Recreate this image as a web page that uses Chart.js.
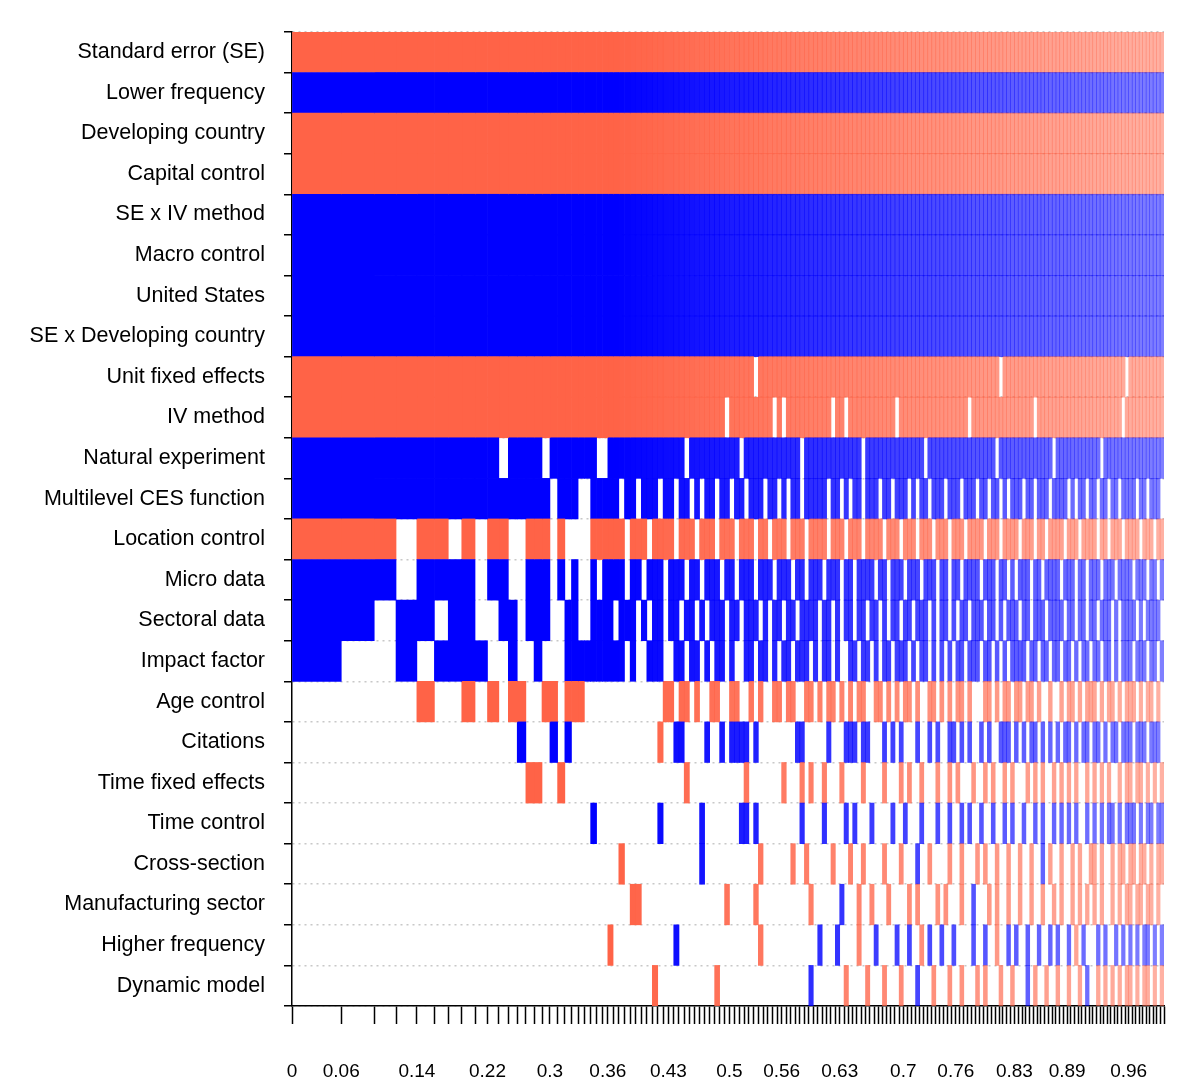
<!DOCTYPE html>
<html>
<head>
<meta charset="utf-8">
<script src="https://cdn.jsdelivr.net/npm/chart.js@4/dist/chart.umd.min.js"></script>
<style>
  body { margin: 0; background: #fff; }
  #wrap { width: 1200px; height: 1088px; }
</style>
</head>
<body>
<div id="wrap"><canvas id="chart" width="1200" height="1088"></canvas></div>
<script>
const variables = [
  "Standard error (SE)", "Lower frequency", "Developing country", "Capital control",
  "SE x IV method", "Macro control", "United States", "SE x Developing country",
  "Unit fixed effects", "IV method", "Natural experiment", "Multilevel CES function",
  "Location control", "Micro data", "Sectoral data", "Impact factor",
  "Age control", "Citations", "Time fixed effects", "Time control",
  "Cross-section", "Manufacturing sector", "Higher frequency", "Dynamic model"
];

// usual sign of each variable: 1 = positive (red), -1 = negative (blue)
const signs = [1, -1, 1, 1, -1, -1, -1, -1, 1, 1, -1, -1, 1, -1, -1, -1, 1, -1, 1, -1, 1, 1, -1, 1];

// posterior model probabilities (column widths), best model first
const modelProbs = [
  0.0565, 0.0378, 0.025, 0.0239, 0.0201, 0.0159, 0.0155, 0.0152, 0.0143, 0.013,
  0.0109, 0.0102, 0.0099, 0.0094, 0.0091, 0.0091, 0.0088, 0.0083, 0.0076, 0.0076,
  0.0072, 0.0072, 0.0068, 0.0068, 0.0061, 0.006,
  0.0066, 0.0065, 0.0065, 0.0064, 0.0064, 0.0063, 0.0063, 0.0062, 0.0062, 0.0061,
  0.0061, 0.0060, 0.0060, 0.0059, 0.0059, 0.0058, 0.0058, 0.0058, 0.0057, 0.0057,
  0.0057, 0.0056, 0.0056, 0.0056, 0.0055, 0.0055, 0.0055, 0.0054, 0.0054, 0.0054,
  0.0053, 0.0053, 0.0053, 0.0053, 0.0052, 0.0052, 0.0052, 0.0052, 0.0051, 0.0051,
  0.0051, 0.0051, 0.0051, 0.0050, 0.0050, 0.0050, 0.0050, 0.0050, 0.0049, 0.0049,
  0.0049, 0.0049, 0.0049, 0.0049, 0.0048, 0.0048, 0.0048, 0.0048, 0.0048, 0.0048,
  0.0047, 0.0047, 0.0047, 0.0047, 0.0047, 0.0047, 0.0046, 0.0046, 0.0046, 0.0046,
  0.0046, 0.0046, 0.0046, 0.0046, 0.0046, 0.0045, 0.0045, 0.0045, 0.0045, 0.0045,
  0.0045, 0.0045, 0.0045, 0.0045, 0.0044, 0.0044, 0.0044, 0.0044, 0.0044, 0.0044,
  0.0044, 0.0044, 0.0044, 0.0043, 0.0043, 0.0043, 0.0043, 0.0043, 0.0043, 0.0043,
  0.0043, 0.0043, 0.0042, 0.0042, 0.0042, 0.0042, 0.0042, 0.0042, 0.0042, 0.0042,
  0.0042, 0.0042, 0.0041, 0.0041, 0.0041, 0.0041, 0.0041, 0.0041, 0.0041, 0.0041,
  0.0040, 0.0040, 0.0040, 0.0040, 0.0040, 0.0040, 0.0040, 0.0040, 0.0040, 0.0045
];

// inclusion per variable and model: 1 = usual sign, 2 = opposite sign, 0 = not included
const inclusion = [
  "1111111111 1111111111 111111 1111111111 1111111111 1111111111 1111111111 1111111111 1111111111 1111111111 1111111111 1111111111 1111111111 1111111111 1111111111 1111111111",
  "1111111111 1111111111 111111 1111111111 1111111111 1111111111 1111111111 1111111111 1111111111 1111111111 1111111111 1111111111 1111111111 1111111111 1111111111 1111111111",
  "1111111111 1111111111 111111 1111111111 1111111111 1111111111 1111111111 1111111111 1111111111 1111111111 1111111111 1111111111 1111111111 1111111111 1111111111 1111111111",
  "1111111111 1111111111 111111 1111111111 1111111111 1111111111 1111111111 1111111111 1111111111 1111111111 1111111111 1111111111 1111111111 1111111111 1111111111 1111111111",
  "1111111111 1111111111 111111 1111111111 1111111111 1111111111 1111111111 1111111111 1111111111 1111111111 1111111111 1111111111 1111111111 1111111111 1111111111 1111111111",
  "1111111111 1111111111 111111 1111111111 1111111111 1111111111 1111111111 1111111111 1111111111 1111111111 1111111111 1111111111 1111111111 1111111111 1111111111 1111111111",
  "1111111111 1111111111 111111 1111111111 1111111111 1111111111 1111111111 1111111111 1111111111 1111111111 1111111111 1111111111 1111111111 1111111111 1111111111 1111111111",
  "1111111111 1111111111 111111 1111111111 1111111111 1111111111 1111111111 1111111111 1111111111 1111111111 1111111111 1111111111 1111111111 1111111111 1111111111 1111111111",
  "1111111111 1111111111 111111 1111111111 1111111111 1111111011 1111111111 1111111111 1111111111 1111111111 1111111111 1111101111 1111111111 1111111111 1111111110 1111111111",
  "1111111111 1111111111 111111 1111111111 1111111111 1011111111 1010111111 1111011011 1111111110 1111111111 1111111011 1111111111 1111011111 1111111111 1111111101 1111111111",
  "1111111111 0111101111 111001 1111111111 1110111111 1111011111 1111111011 1111111111 1011111111 1111110111 1111111111 1111011111 1111111110 1111111111 1101111111 1111111111",
  "1111111111 1111110111 001111 1011011101 1011010110 1101101110 1101011011 1110110101 1011101101 1101011011 1011101110 1101101011 1011011101 1110101101 1011011011 1101101110",
  "1110110101 1001110100 001111 1101110111 1011101110 1110111011 0111011101 1110111011 1011110111 0111011101 1101110111 1011101111 0111011011 1101110111 1011011101 1110111011",
  "1110111101 1001110101 001011 1101101110 1110110111 0110111011 1011101101 1101110110 1111011011 1011101110 1101101111 0111011010 1110110111 1011101101 1101110111 1011101101",
  "1101101100 1101110011 001111 0111010110 1101101011 1011011101 0110110111 1011010110 1101101011 0110111010 1101011011 1011010111 0110111011 1101101101 1011101011 1101011110",
  "1001011110 0100100011 111111 1101001110 0110110101 1010011011 0101101110 1011010011 0110101101 1101011010 1010110111 0110101011 1101101101 1011010110 1101101011 1011101101",
  "0000100101 0110011011 100000 0000000001 1011010011 0011001010 0110110011 0101101010 1100110101 0110100110 1010110100 0110101101 1011010010 0101101011 1010110101 1101011010",
  "0000000000 0010001010 000000 0000000020 0110000100 1011110100 0000001100 0001000111 0110001010 1000100101 0011010100 1010011101 0101101010 1011010110 1101011011 1011101110",
  "0000000000 0001100100 000000 0000000000 0001000000 0000010000 0001000101 0010001000 0100001000 1010010001 0010100010 0101001010 0010101001 0101010010 1010100101 1011010101",
  "0000000000 0000000000 001000 0000000010 0000001000 0000110100 0000000100 0010000101 0001000010 0100010001 0010010100 1001001010 0100101001 0101010010 1010110101 1101011011",
  "0000000000 0000000000 000000 0100000000 0000002000 0000000010 0000010010 0000100010 0100001000 1000200100 0010010001 0100100100 1001002010 0100101001 1010010110 1101101011",
  "0000000000 0000000000 000000 0001100000 0000000000 0100000100 0000000001 0000002000 1001000100 0010100001 0100010020 0010100100 1001001001 0100101010 1010010101 1011011010",
  "0000000000 0000000000 000002 0000000000 0100000000 0000000020 0000000000 0100010000 2000100001 0010020100 1001000010 0100200101 0010010010 1001020100 0101001010 1010110101",
  "0000000000 0000000000 000000 0000000100 0000000001 0000000000 0000000002 0000000100 0010001000 1000200010 0010010001 0100010010 0020100100 1001001020 0101010101 1010110101"
].map(s => s.replace(/ /g, ""));

const xTickLabels = ["0", "0.06", "0.14", "0.22", "0.3", "0.36", "0.43", "0.5", "0.56", "0.63", "0.7", "0.76", "0.83", "0.89", "0.96"];

// cumulative model boundaries
const bounds = [0];
modelProbs.forEach((p, j) => bounds.push(bounds[j] + p));

// pick the model boundary nearest to each labelled value
const labelAt = {};
xTickLabels.forEach(lab => {
  const v = parseFloat(lab);
  let best = 0;
  bounds.forEach((b, k) => { if (Math.abs(b - v) < Math.abs(bounds[best] - v)) best = k; });
  labelAt[best] = lab;
});

function cellColor(code, row, j) {
  const s = code === "2" ? -signs[row] : signs[row];
  const fade = j < 26 ? 1 : 1 - 0.5 * (bounds[j] - 0.37) / 0.63;
  return s > 0 ? `rgba(255,99,71,${fade})` : `rgba(0,0,255,${fade})`;
}

const datasets = modelProbs.map((p, j) => ({
  data: variables.map((v, i) => inclusion[i][j] !== "0" ? [bounds[j], bounds[j + 1]] : null),
  backgroundColor: variables.map((v, i) => cellColor(inclusion[i][j], i, j)),
  borderWidth: 0,
  grouped: false,
  barPercentage: 1,
  categoryPercentage: 1
}));

new Chart(document.getElementById("chart"), {
  type: "bar",
  data: { labels: variables, datasets: datasets },
  options: {
    responsive: false,
    animation: false,
    indexAxis: "y",
    layout: { padding: { top: -26, right: 18, left: 0, bottom: 0 } },
    plugins: { legend: { display: false }, tooltip: { enabled: false } },
    scales: {
      x: {
        type: "linear",
        min: 0,
        max: 1,
        afterBuildTicks: (axis) => { axis.ticks = bounds.map(b => ({ value: b })); },
        afterFit: (axis) => { axis.height = 82; },
        ticks: {
          autoSkip: false,
          maxRotation: 0,
          padding: 36,
          color: "#000",
          font: { family: "Liberation Sans", size: 19 },
          callback: (val, k) => labelAt[k] || ""
        },
        grid: {
          drawOnChartArea: false,
          tickLength: 18,
          tickColor: "#000",
          tickWidth: 1.5
        },
        border: { color: "#000", width: 1.5, dash: [6, 2] }
      },
      y: {
        afterFit: (axis) => { axis.width = 292; },
        ticks: {
          color: "#000",
          padding: 19,
          font: { family: "Liberation Sans", size: 21.5 }
        },
        grid: {
          offset: true,
          color: "#c8c8c8",
          lineWidth: 1.5,
          tickColor: "#000",
          tickLength: 8,
          tickBorderDash: []
        },
        border: { color: "#000", width: 1.5, dash: [2, 4] }
      }
    }
  }
});
</script>
</body>
</html>
